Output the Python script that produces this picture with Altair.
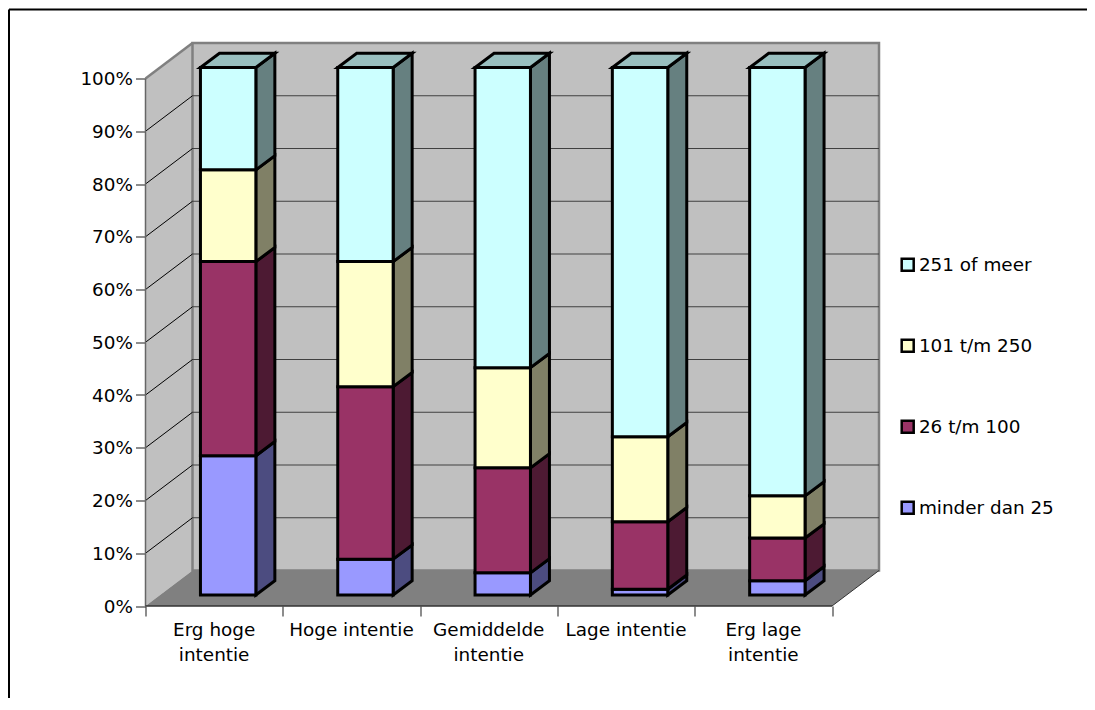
import altair as alt
import pandas as pd

categories = ["Erg hoge\nintentie", "Hoge intentie", "Gemiddelde\nintentie", "Lage intentie", "Erg lage\nintentie"]
series = ["minder dan 25", "26 t/m 100", "101 t/m 250", "251 of meer"]
v_low = [26.4, 6.8, 4.2, 1.1, 2.7]
v_mid = [36.8, 32.7, 19.9, 12.8, 8.1]
v_high = [17.4, 23.7, 19.0, 16.1, 8.0]
v_top = [19.4, 36.8, 56.9, 70.0, 81.2]
front_colors = ["#9999FF", "#993366", "#FFFFCC", "#CCFFFF"]
side_colors = ["#4C4C80", "#4D1A33", "#808066", "#668080"]
top_color = "#99BFBF"
y_ticks = list(range(0, 101, 10))

FONT = "DejaVu Sans"
FS = 18.4
PX_X = 137.3   # pixels per category
PX_Y = 5.275   # pixels per percent
W, H = 734, 562.5
DX, DY = 47 / PX_X, 35.5 / PX_Y        # chart depth
BX, BY = 14 / PX_X, 11 / PX_Y          # front of the bars inside the depth
SX, SY = 19 / PX_X, 14.2 / PX_Y        # depth of a bar
BAR_W = 0.4035
N = len(categories)

xs = alt.Scale(domain=[0, W / PX_X], nice=False, zero=False)
ys = alt.Scale(domain=[0, H / PX_Y], nice=False, zero=False)
X = alt.X("x:Q", scale=xs, axis=alt.Axis(
    values=list(range(N + 1)), labels=False, title=None, grid=False, domain=False,
    tickSize=10, tickColor="#404040", tickWidth=1.2,
))
Y = alt.Y("y:Q", scale=ys, axis=alt.Axis(
    values=y_ticks, labelExpr="datum.value + '%'", title=None, grid=False, domain=False,
    tickSize=10, tickColor="#404040", tickWidth=1.2, labelFont=FONT, labelFontSize=FS,
    labelColor="#000000", labelPadding=3,
))


def line(points, color, width):
    df = pd.DataFrame(points, columns=["x", "y", "g"])
    return alt.Chart(df).mark_line(color=color, strokeWidth=width).encode(
        x=X, y=Y, detail="g:N", order="x:Q"
    )


# walls and floor
left_wall = alt.Chart(pd.DataFrame({"x": [0, DX], "y": [0, DY], "y2": [100, 100 + DY]})).mark_area(
    orient="vertical", color="#C0C0C0"
).encode(x=X, y=Y, y2="y2:Q")
back_wall = alt.Chart(pd.DataFrame({"x": [DX], "x2": [N + DX], "y": [DY], "y2": [100 + DY]})).mark_rect(
    fill="#C0C0C0", stroke="#808080", strokeWidth=2.5
).encode(x=X, x2="x2:Q", y=Y, y2="y2:Q")
floor = alt.Chart(pd.DataFrame({"x": [0, DX, N, N + DX], "y": [0, 0, 0, DY], "y2": [0, DY, DY, DY]})).mark_area(
    orient="vertical", color="#808080"
).encode(x=X, y=Y, y2="y2:Q")

grid_back = line(
    [p for v in y_ticks[1:-1] for p in [(DX, v + DY, v), (N + DX, v + DY, v)]], "#404040", 1.2
)
grid_side = line(
    [p for v in y_ticks[1:-1] for p in [(0, v, v), (DX, v + DY, v)]], "#000000", 1
)
edge_top = line([(0, 100, 0), (DX, 100 + DY, 0)], "#808080", 2.5)
edge_left = line([(0, 0, 0), (0, 100, 0)], "#666666", 1.5)
edge_base = line([(0, 0, 0), (N, 0, 0)], "#333333", 1.5)
edge_right = line([(N, 0, 0), (N + DX, DY, 0)], "#333333", 1)

# bars
rows, side_rows, top_rows = [], [], []
for i in range(N):
    left = i + 0.5 + BX - BAR_W / 2
    right = left + BAR_W
    low = BY
    for j, vals in enumerate([v_low, v_mid, v_high, v_top]):
        high = low + vals[i]
        rows.append({"x": left, "x2": right, "y": low, "y2": high, "series": series[j]})
        side_rows.append({"x": right, "y": low, "y2": high, "g": f"{i}-{j}", "c": side_colors[j]})
        side_rows.append({"x": right + SX, "y": low + SY, "y2": high + SY, "g": f"{i}-{j}", "c": side_colors[j]})
        low = high
    top_rows += [
        {"x": left, "y": low, "y2": low, "g": i},
        {"x": left + SX, "y": low, "y2": low + SY, "g": i},
        {"x": right, "y": low, "y2": low + SY, "g": i},
        {"x": right + SX, "y": low + SY, "y2": low + SY, "g": i},
    ]

BAR_STROKE = dict(stroke="#000000", strokeWidth=3, strokeJoin="miter")
front = alt.Chart(pd.DataFrame(rows)).mark_rect(**BAR_STROKE).encode(
    x=X, x2="x2:Q", y=Y, y2="y2:Q",
    fill=alt.Fill(
        "series:N",
        scale=alt.Scale(domain=series[::-1], range=front_colors[::-1]),
        legend=alt.Legend(
            title=None, orient="none", legendX=753, legendY=212,
            symbolType="square", symbolSize=144, symbolStrokeColor="#000000", symbolStrokeWidth=2.5,
            labelFont=FONT, labelFontSize=FS, labelColor="#000000", rowPadding=58, labelOffset=2,
            padding=0,
        ),
    ),
)
sides = alt.Chart(pd.DataFrame(side_rows)).mark_area(orient="vertical", **BAR_STROKE).encode(
    x=X, y=Y, y2="y2:Q", detail="g:N", fill=alt.Fill("c:N", scale=None)
)
tops = alt.Chart(pd.DataFrame(top_rows)).mark_area(orient="vertical", fill=top_color, **BAR_STROKE).encode(
    x=X, y=Y, y2="y2:Q", detail="g:N"
)

cat_labels = alt.Chart(pd.DataFrame({"x": [i + 0.5 for i in range(N)], "y": [0] * N, "t": categories})).mark_text(
    font=FONT, fontSize=FS, color="#000000", baseline="top", dy=15, lineBreak="\n", lineHeight=25
).encode(x=X, y=Y, text="t:N")

# outer frame
frame_top = alt.Chart(pd.DataFrame({"a": [0]})).mark_rule(color="#000000", strokeWidth=2).encode(
    x=alt.value(-136.5), x2=alt.value(950), y=alt.value(-34)
)
frame_left = alt.Chart(pd.DataFrame({"a": [0]})).mark_rule(color="#000000", strokeWidth=2).encode(
    x=alt.value(-136.5), y=alt.value(-34), y2=alt.value(670)
)

chart = alt.layer(
    left_wall, back_wall, floor, grid_back, grid_side,
    edge_top, edge_left, edge_base, edge_right,
    frame_top, frame_left,
    sides, tops, front, cat_labels,
).properties(
    width=W, height=H,
    background="#FFFFFF",
    autosize=alt.AutoSizeParams(type="none"),
    padding={"left": 137.5, "top": 35.5, "right": 207.5, "bottom": 92},
).configure_view(stroke=None)

chart.save("out.html", embed_options={"renderer": "svg", "actions": False})
